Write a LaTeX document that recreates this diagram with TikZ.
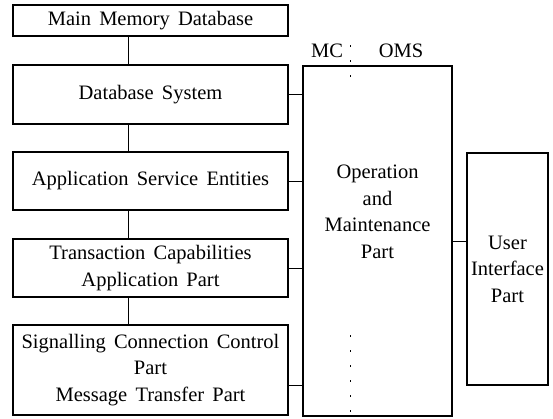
\documentclass[tikz,border=0pt]{standalone}
\usepackage{fontspec}
\setmainfont{Liberation Serif}
\usepackage{tikz}
\newcommand\partsize{\fontsize{20.5}{26.5}\selectfont\setlength{\spaceskip}{0.4em}}
\tikzset{
	partfont/.style={font=\partsize},
	partbox/.style={draw, line width=1.2pt, rectangle, inner sep=0pt, align=center, partfont},
	link/.style={line width=0.8pt},
}

\begin{document}
\begin{tikzpicture}[x=1pt, y=-1pt]
			%%%%% START %%%%%
			\useasboundingbox (0, 0) rectangle (553, 418);
			
			\node[partbox, minimum width=275pt, minimum height=31pt] (mmd) at (150.5, 20.5) {Main Memory Database};
			\node[partbox, minimum width=275pt, minimum height=59pt] (dbs) at (150.5, 94.5) {Database System};
			\node[partbox, minimum width=275pt, minimum height=58pt] (ase) at (150.5, 181) {Application Service Entities};
			\node[partbox, minimum width=275pt, minimum height=58pt] (tcap) at (150.5, 268) {Transaction Capabilities\\Application Part};
			\node[partbox, minimum width=275pt, minimum height=90pt] (sccp) at (150.5, 370) {Signalling Connection Control\\Part\\Message Transfer Part};
			
			\node[partbox, minimum width=149pt, minimum height=350pt] (oam) at (377.5, 241) {};
			\node[align=center, inner sep=0pt, partfont] (oamtext) at (377.5, 212) {Operation\\and\\Maintenance\\Part};
			\node[partbox, minimum width=81pt, minimum height=232pt] (uip) at (507.5, 269) {User\\Interface\\Part};
			
			\node[partfont, inner sep=0pt] (mc) at (327, 51) {MC};
			\node[partfont, inner sep=0pt] (oms) at (401, 51) {OMS};
			\coordinate (split) at (350, 45);
			\coordinate (splitlow) at (350, 335);
			\draw[line width=0.6pt, dash pattern=on 2pt off 13pt] (split) -- (350, 85);
			\draw[line width=0.6pt, dash pattern=on 2pt off 13pt] (splitlow) -- (splitlow |- oam.south);
			
			% stack
			\draw[link] ([xshift=-22.5pt]mmd.south) -- ([xshift=-22.5pt]dbs.north);
			\draw[link] ([xshift=-22.5pt]dbs.south) -- ([xshift=-22.5pt]ase.north);
			\draw[link] ([xshift=-22.5pt]ase.south) -- ([xshift=-22.5pt]tcap.north);
			\draw[link] ([xshift=-22.5pt]tcap.south) -- ([xshift=-22.5pt]sccp.north);
			
			% to the O&M part
			\draw[link] (dbs.east) -- (dbs.east -| oam.west);
			\draw[link] (ase.east) -- (ase.east -| oam.west);
			\draw[link] (tcap.east) -- (tcap.east -| oam.west);
			\draw[link] ([yshift=-15pt]sccp.east) -- ([yshift=-15pt]sccp.east -| oam.west);
			\draw[link] (oam.east) -- (oam.east -| uip.west);
			
			%%%%% END %%%%%
		\end{tikzpicture}
\end{document}
